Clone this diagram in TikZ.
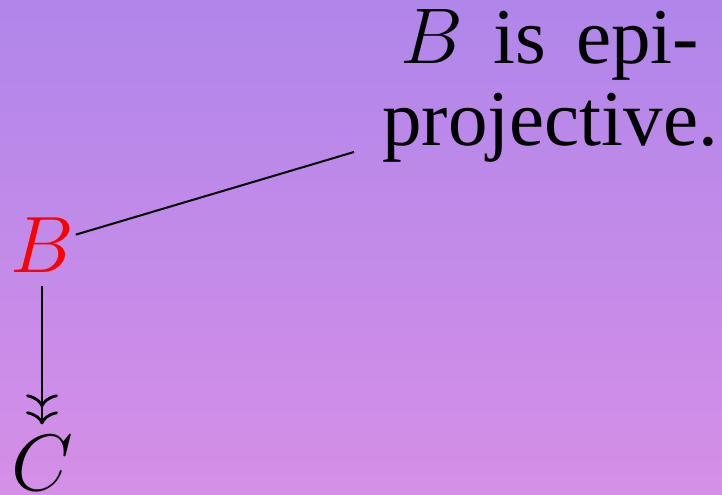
\RequirePackage{fix-cm}
\documentclass[tikz,border=0pt]{standalone}
\usepackage{fontspec}
\setmainfont{Liberation Serif}
\usetikzlibrary{arrows.meta}
\definecolor{bgtop}{RGB}{176,134,234}
\definecolor{bgbot}{RGB}{213,143,231}
\tikzset{
  obj/.style={inner sep=1pt, outer sep=0pt, font=\fontsize{40}{44}\selectfont},
  lab/.style={inner sep=0pt, outer sep=0pt, align=center,
    font=\fontsize{39.5}{41}\selectfont},
  conn/.style={line width=1pt},
  epi/.style={line width=1.4pt,
    -{Computer Modern Rightarrow[length=6.5pt,width=16pt,sep=2pt]Computer Modern Rightarrow[length=6.5pt,width=16pt]}}
}
\begin{document}
\begin{tikzpicture}[x=0.5pt,y=-0.5pt]
\useasboundingbox (0,0) rectangle (722,494);
\shade[top color=bgtop, bottom color=bgbot] (0,0) rectangle (722,494);
\node[obj, text=red, anchor=base] (B) at (42,272) {$B$};
\node[obj, anchor=base] (C) at (42,490) {$C$};
\node[lab, anchor=north] (L) at (550,10) {\spaceskip=15pt\relax $B$ is epi-\\projective.};
\coordinate (e) at (354,152);
\draw[conn] (B) -- (e);
\draw[epi, shorten <=6pt, shorten >=4.5pt] (B) -- (C);
\end{tikzpicture}
\end{document}
